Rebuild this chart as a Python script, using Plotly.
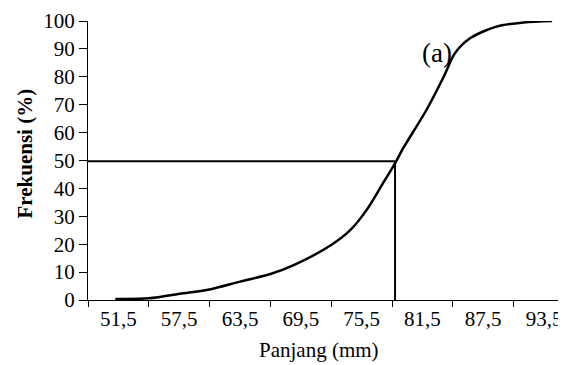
import plotly.graph_objects as go

# Data
curve_x = [51.2, 54.5, 57.9, 60.5, 63.5, 66.5, 68.8, 72.5, 74.4, 76.0, 77.6, 78.8,
           79.6, 81.9, 83.6, 84.7, 86.2, 88.8, 91.5, 94.3]
curve_y = [0.4, 0.6, 2.4, 3.8, 6.6, 9.3, 12.5, 19.7, 25.1, 32.3, 41.8, 49.0,
           54.4, 68.1, 80.0, 88.4, 93.8, 98.0, 99.5, 100.0]
median_x = 78.8
median_y = 49.7
x_start = 48.5
tick_vals = [51.5, 57.5, 63.5, 69.5, 75.5, 81.5, 87.5, 93.5]
tick_text = ["51,5", "57,5", "63,5", "69,5", "75,5", "81,5", "87,5", "93,5"]
y_ticks = list(range(0, 101, 10))

FONT = "Times New Roman, Liberation Serif, serif"

W, H = 558, 357
L, T, B = 80, 13, 65
plot_w = W - L
plot_h = H - T - B

fig = go.Figure()
fig.add_trace(go.Scatter(x=curve_x, y=curve_y, mode="lines",
                         line=dict(color="black", width=2.5, shape="spline", smoothing=0.8),
                         hoverinfo="skip"))
fig.add_trace(go.Scatter(x=[x_start, median_x], y=[median_y, median_y], mode="lines",
                         line=dict(color="black", width=2), hoverinfo="skip"))
fig.add_trace(go.Scatter(x=[median_x, median_x], y=[0, median_y], mode="lines",
                         line=dict(color="black", width=2), hoverinfo="skip"))

fig.add_annotation(x=82.9, y=88.5, text="(a)", showarrow=False,
                   font=dict(family=FONT, size=27, color="black"))
fig.add_annotation(xref="paper", yref="paper", x=(310.7 - L) / plot_w,
                   y=-(342 - (H - B)) / plot_h,
                   text="Panjang (mm)", showarrow=False, yanchor="middle",
                   font=dict(family=FONT, size=21, color="black"))
fig.add_annotation(xref="paper", yref="paper", x=(17 - L) / plot_w, y=0.525, textangle=-90,
                   text="<b>Frekuensi (%)</b>", showarrow=False,
                   xanchor="center", yanchor="middle",
                   font=dict(family=FONT, size=21, color="black"))

fig.update_layout(
    width=W, height=H,
    margin=dict(l=L, r=0, t=T, b=B, autoexpand=False),
    paper_bgcolor="white", plot_bgcolor="white",
    showlegend=False,
    font=dict(family=FONT, size=21, color="black"),
    xaxis=dict(range=[x_start, x_start + plot_w / 60.8 * 6], automargin=False,
               tickvals=tick_vals, ticktext=tick_text, ticks="",
               showgrid=False, zeroline=False,
               showline=True, linecolor="black", linewidth=1,
               minor=dict(tick0=x_start, dtick=6, ticks="outside", ticklen=6,
                          tickcolor="black", showgrid=False),
               tickfont=dict(family=FONT, size=21, color="black")),
    yaxis=dict(range=[0, 100], tickvals=y_ticks, ticks="outside", ticklen=8,
               automargin=False,
               tickcolor="black", showgrid=False, zeroline=False,
               showline=True, linecolor="black", linewidth=1,
               tickfont=dict(family=FONT, size=21, color="black")),
)

fig.write_html("out.html")
